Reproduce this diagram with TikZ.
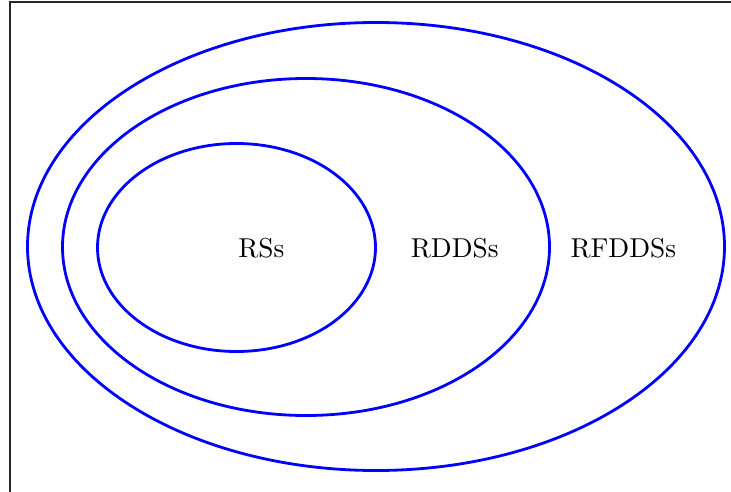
\documentclass[tikz,border=0pt]{standalone}
\begin{document}
\begin{tikzpicture}[x=1pt,y=-1pt,
  setell/.style={draw={rgb,255:red,0;green,0;blue,255},line width=2.8pt},
  setlabel/.style={anchor=base,inner sep=0pt,scale=2.73,font=\fontsize{10}{12}\selectfont},
  frameline/.style={draw={rgb,255:red,40;green,40;blue,40},line width=2.6pt}]
\useasboundingbox (0,0) rectangle (731,492);
\coordinate (fTL) at (10,2);
\coordinate (fTR) at (731,2);
\coordinate (fBL) at (10,492);
\draw[frameline] (fBL) -- (fTL) -- (fTR);
\draw[setell] (376,246.5) ellipse [x radius=348.5, y radius=224];
\draw[setell] (306,247) ellipse [x radius=243.5, y radius=168.5];
\draw[setell] (236.5,247.5) ellipse [x radius=139, y radius=104];
\node[setlabel] (rs) at (261.3,257.7) {RSs};
\node[setlabel] (rdds) at (454.7,257.7) {RDDSs};
\node[setlabel] (rfdds) at (623.3,257.7) {RFDDSs};
\end{tikzpicture}
\end{document}
